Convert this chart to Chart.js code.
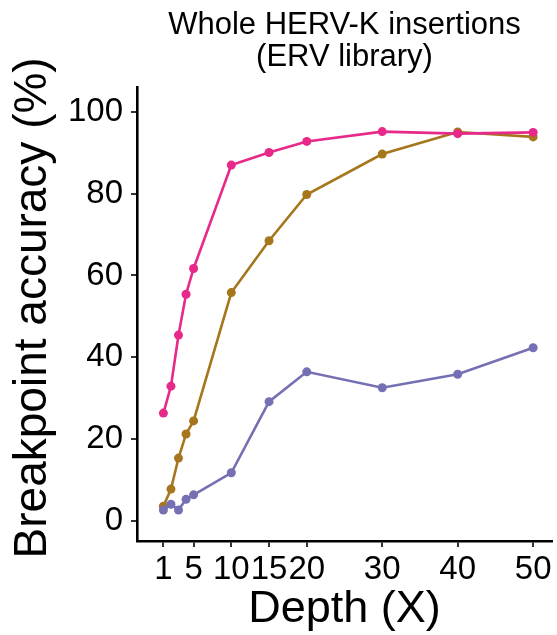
<!DOCTYPE html>
<html>
<head>
<meta charset="utf-8">
<script src="https://cdn.jsdelivr.net/npm/chart.js@4"></script>
<style>
  html, body { margin: 0; padding: 0; background: #fff; }
  #wrap { width: 557px; height: 635px; }
</style>
</head>
<body>
<div id="wrap"><canvas id="lineChart" width="557" height="635"></canvas></div>
<script>
// depth (X) of each sample point
var depth = [1, 2, 3, 4, 5, 10, 15, 20, 30, 40, 50];
// breakpoint accuracy (%) per series
var pinkSeries = [26.3, 32.9, 45.4, 55.4, 61.7, 87.0, 90.1, 92.8, 95.2, 94.7, 95.0];
var brownSeries = [3.5, 7.7, 15.3, 21.2, 24.4, 55.8, 68.5, 79.8, 89.7, 95.1, 93.9];
var purpleSeries = [2.6, 4.0, 2.6, 5.2, 6.3, 11.7, 29.1, 36.4, 32.5, 35.8, 42.3];
var xTicks = [1, 5, 10, 15, 20, 30, 40, 50];
var yTicks = [0, 20, 40, 60, 80, 100];

var FONT = "'Liberation Sans', Arial, sans-serif";

function pts(arr) {
  return arr.map(function (v, i) { return { x: depth[i], y: v }; });
}

function series(label, arr, color) {
  return {
    label: label,
    data: pts(arr),
    borderColor: color,
    backgroundColor: color,
    borderWidth: 2.6,
    pointRadius: 4.5,
    pointBorderWidth: 0,
    pointHoverRadius: 4.5,
    tension: 0
  };
}

new Chart(document.getElementById("lineChart"), {
  type: "line",
  data: {
    datasets: [
      series("pink", pinkSeries, "#E7298A"),
      series("purple", purpleSeries, "#7570B3"),
      series("brown", brownSeries, "#A6761D")
    ]
  },
  options: {
    responsive: false,
    animation: false,
    layout: { padding: { top: 0, right: 5, bottom: 0, left: 0 } },
    plugins: {
      legend: { display: false },
      tooltip: { enabled: false },
      title: {
        display: true,
        fullSize: false,
        text: ["Whole HERV-K insertions", "(ERV library)"],
        color: "#000",
        font: { family: FONT, size: 31, weight: "normal", lineHeight: 1.04 },
        padding: { top: 9, bottom: 14 }
      }
    },
    scales: {
      x: {
        type: "linear",
        min: -2.5,
        max: 52.5,
        afterBuildTicks: function (scale) {
          scale.ticks = xTicks.map(function (v) { return { value: v }; });
        },
        afterFit: function (scale) { scale.height = 94; },
        ticks: {
          autoSkip: false,
          maxRotation: 0,
          color: "#000",
          padding: 3,
          font: { family: FONT, size: 33 }
        },
        grid: { drawOnChartArea: false, drawTicks: true, tickLength: 6, color: "#333", lineWidth: 2 },
        border: { display: true, color: "#000", width: 2.6 },
        title: {
          display: true,
          text: "Depth (X)",
          color: "#000",
          font: { family: FONT, size: 45, lineHeight: 1.0 },
          padding: { top: 0, bottom: 3 }
        }
      },
      y: {
        min: -5,
        max: 106,
        afterBuildTicks: function (scale) {
          scale.ticks = yTicks.map(function (v) { return { value: v }; });
        },
        afterFit: function (scale) { scale.width = 137; },
        ticks: {
          color: "#000",
          padding: 8,
          font: { family: FONT, size: 33 }
        },
        grid: { drawOnChartArea: false, drawTicks: true, tickLength: 6, color: "#333", lineWidth: 2 },
        border: { display: true, color: "#000", width: 2.6 },
        title: {
          display: true,
          text: " Breakpoint accuracy (%)",
          color: "#000",
          font: { family: FONT, size: 46, lineHeight: 1.2 },
          padding: { top: 6, bottom: 0 }
        }
      }
    }
  }
});
</script>
</body>
</html>
